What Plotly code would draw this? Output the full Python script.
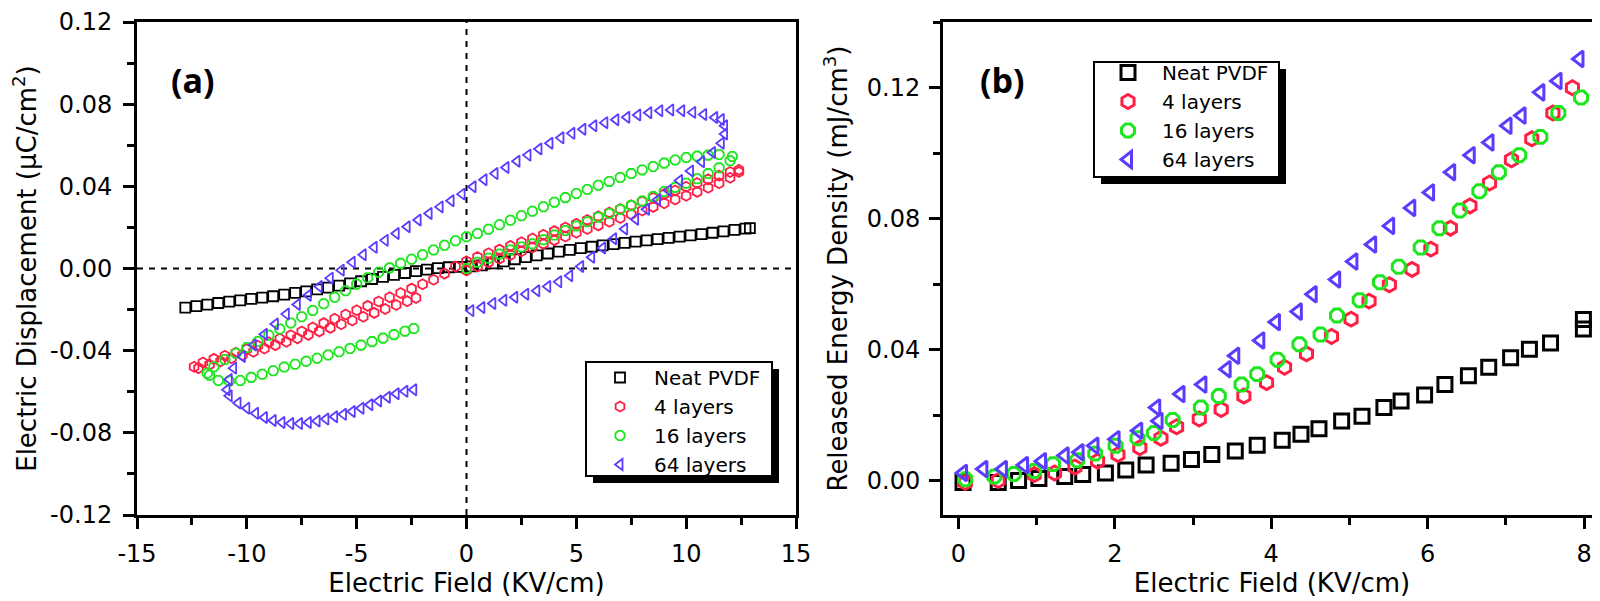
import plotly.graph_objects as go

# ---------------- data ----------------
names = ["Neat PVDF", "4 layers", "16 layers", "64 layers"]
colors = ["#000000", "#ff1f45", "#1ee61e", "#5a3cff"]
symbols = ["square-open", "hexagon-open", "octagon-open", "triangle-left-open"]

# (a) electric displacement vs field, loops
pvdf_E = [-12.8, -12.3, -11.8, -11.3, -10.8, -10.3, -9.8, -9.3, -8.8, -8.3, -7.8, -7.3, -6.8,
          -6.3, -5.8, -5.3, -4.8, -4.3, -3.8, -3.3, -2.8, -2.3, -1.8, -1.3, -0.8, -0.3,
          0.2, 0.7, 1.2, 1.7, 2.2, 2.7, 3.2, 3.7, 4.2, 4.7, 5.2, 5.7, 6.2, 6.7, 7.2, 7.7,
          8.2, 8.7, 9.2, 9.7, 10.2, 10.7, 11.2, 11.7, 12.2, 12.7, 12.9]
pvdf_D = [-0.0190, -0.0183, -0.0176, -0.0168, -0.0161, -0.0155, -0.0148, -0.0142, -0.0135,
          -0.0127, -0.0119, -0.0111, -0.0102, -0.0093, -0.0083, -0.0072, -0.0062, -0.0051,
          -0.0041, -0.0031, -0.0022, -0.0013, -0.0005, 0.0002, 0.0006, 0.0008,
          0.0010, 0.0015, 0.0025, 0.0035, 0.0045, 0.0055, 0.0064, 0.0073, 0.0082, 0.0091,
          0.0099, 0.0106, 0.0113, 0.0119, 0.0125, 0.0131, 0.0137, 0.0143, 0.0149, 0.0155,
          0.0161, 0.0167, 0.0174, 0.0181, 0.0188, 0.0194, 0.0197]

l4_up_E = [0.0, 0.5, 1.0, 1.5, 2.0, 2.5, 3.0, 3.5, 4.0, 4.5, 5.0, 5.5, 6.0, 6.5, 7.0, 7.5,
           8.0, 8.5, 9.0, 9.5, 10.0, 10.5, 11.0, 11.5, 12.0, 12.4]
l4_up_D = [-0.001, 0.001, 0.003, 0.0048, 0.0066, 0.0084, 0.0102, 0.012, 0.0138, 0.0156,
           0.0174, 0.0192, 0.021, 0.0228, 0.0246, 0.0264, 0.0282, 0.030, 0.0318, 0.0336,
           0.0354, 0.0373, 0.0393, 0.0415, 0.0442, 0.047]
l4_down_E = [12.4, 12.0, 11.5, 11.0, 10.5, 10.0, 9.5, 9.0, 8.5, 8.0, 7.5, 7.0, 6.5, 6.0, 5.5,
             5.0, 4.5, 4.0, 3.5, 3.0, 2.5, 2.0, 1.5, 1.0, 0.5, 0.0, -0.5, -1.0, -1.5, -2.0,
             -2.5, -3.0, -3.5, -4.0, -4.5, -5.0, -5.5, -6.0, -6.5, -7.0, -7.5, -8.0, -8.5,
             -9.0, -9.5, -10.0, -10.5, -11.0, -11.5, -12.0, -12.4]
l4_down_D = [0.0480, 0.0470, 0.0452, 0.0434, 0.0416, 0.0398, 0.0380, 0.0362, 0.0344, 0.0326,
             0.0308, 0.0290, 0.0272, 0.0254, 0.0236, 0.0218, 0.0200, 0.0182, 0.0164, 0.0146,
             0.0128, 0.0110, 0.0092, 0.0074, 0.0056, 0.0035, 0.0010, -0.0025, -0.0055,
             -0.0077, -0.0098, -0.0119, -0.0140, -0.0161, -0.0182, -0.0203, -0.0224, -0.0245,
             -0.0266, -0.0287, -0.0307, -0.0325, -0.0342, -0.0359, -0.0376, -0.0393, -0.0410,
             -0.0425, -0.0440, -0.0458, -0.0478]
l4_tail_E = [-12.2, -11.7, -11.2, -10.7, -10.2, -9.7, -9.2, -8.7, -8.2, -7.7, -7.2, -6.7,
             -6.2, -5.7, -5.2, -4.7, -4.2, -3.7, -3.2, -2.7, -2.3]
l4_tail_D = [-0.0485, -0.0468, -0.0452, -0.0437, -0.0421, -0.0405, -0.0389, -0.0373, -0.0357,
             -0.0340, -0.0323, -0.0306, -0.0289, -0.0271, -0.0253, -0.0235, -0.0216, -0.0197,
             -0.0178, -0.0159, -0.0144]

l16_up_E = [0.0, 0.5, 1.0, 1.5, 2.0, 2.5, 3.0, 3.5, 4.0, 4.5, 5.0, 5.5, 6.0, 6.5, 7.0, 7.5,
            8.0, 8.5, 9.0, 9.5, 10.0, 10.5, 11.0, 11.5, 12.0]
l16_up_D = [0.000, 0.003, 0.005, 0.007, 0.009, 0.0105, 0.012, 0.014, 0.0163, 0.0185, 0.0207,
            0.0228, 0.025, 0.0268, 0.0287, 0.0306, 0.0328, 0.035, 0.0375, 0.0395, 0.0415,
            0.0437, 0.0462, 0.049, 0.0525]
l16_down_E = [12.1, 11.5, 11.0, 10.5, 10.0, 9.5, 9.0, 8.5, 8.0, 7.5, 7.0, 6.5, 6.0, 5.5, 5.0,
              4.5, 4.0, 3.5, 3.0, 2.5, 2.0, 1.5, 1.0, 0.5, 0.0, -0.5, -1.0, -1.5, -2.0, -2.5,
              -3.0, -3.5, -4.0, -4.5, -5.0, -5.5, -6.0, -6.5, -7.0, -7.5, -8.0, -8.5, -9.0,
              -9.5, -10.0, -10.5, -11.0, -11.5, -11.8]
l16_down_D = [0.0545, 0.0555, 0.0552, 0.0547, 0.0540, 0.0528, 0.0513, 0.0497, 0.0480, 0.0462,
              0.0443, 0.0424, 0.0405, 0.0385, 0.0365, 0.0345, 0.0323, 0.0301, 0.0279, 0.0257,
              0.0235, 0.0213, 0.0191, 0.0170, 0.0155, 0.0135, 0.0113, 0.0090, 0.0067, 0.0045,
              0.0025, 0.0003, -0.0018, -0.0045, -0.0076, -0.0108, -0.0140, -0.0172, -0.0204,
              -0.0235, -0.0265, -0.0295, -0.0325, -0.0355, -0.0385, -0.0413, -0.0443, -0.0478,
              -0.0510]
l16_tail_E = [-11.7, -11.3, -10.8, -10.3, -9.8, -9.3, -8.8, -8.3, -7.8, -7.3, -6.8, -6.3,
              -5.8, -5.3, -4.8, -4.3, -3.8, -3.3, -2.8, -2.4]
l16_tail_D = [-0.0520, -0.0545, -0.0548, -0.0545, -0.0530, -0.0515, -0.0498, -0.0480, -0.0466,
              -0.0452, -0.0437, -0.0421, -0.0405, -0.0389, -0.0373, -0.0356, -0.0339, -0.0322,
              -0.0305, -0.0292]

l64_up_E = [0.2, 0.7, 1.2, 1.7, 2.2, 2.7, 3.2, 3.7, 4.2, 4.7, 5.2, 5.7, 6.2, 6.7, 7.2, 7.7,
            8.2, 8.7, 9.2, 9.7, 10.2, 10.7, 11.2, 11.6, 11.75, 11.75, 11.6]
l64_up_D = [-0.0205, -0.019, -0.017, -0.0155, -0.014, -0.0125, -0.0108, -0.0088, -0.0065,
            -0.0035, 0.001, 0.0055, 0.010, 0.0145, 0.0192, 0.024, 0.0288, 0.0335, 0.038,
            0.0428, 0.0475, 0.052, 0.0565, 0.061, 0.0655, 0.0695, 0.0725]
l64_down_E = [11.3, 10.8, 10.3, 9.8, 9.3, 8.8, 8.3, 7.8, 7.3, 6.8, 6.3, 5.8, 5.3, 4.8, 4.3,
              3.8, 3.3, 2.8, 2.3, 1.8, 1.3, 0.8, 0.3, -0.2, -0.7, -1.2, -1.7, -2.2, -2.7,
              -3.2, -3.7, -4.2, -4.7, -5.2, -5.7, -6.2, -6.7, -7.2, -7.7, -8.2, -8.7, -9.2,
              -9.7, -10.2, -10.6, -10.8, -10.9]
l64_down_D = [0.0735, 0.075, 0.076, 0.0768, 0.0772, 0.0768, 0.0758, 0.0747, 0.0736, 0.0724,
              0.071, 0.0695, 0.0678, 0.0658, 0.0636, 0.061, 0.0582, 0.0552, 0.0522, 0.0492,
              0.0462, 0.0432, 0.0398, 0.0362, 0.033, 0.030, 0.0268, 0.0236, 0.0203, 0.017,
              0.0137, 0.0103, 0.0067, 0.003, -0.0008, -0.0047, -0.0088, -0.013, -0.0175,
              -0.0222, -0.027, -0.032, -0.0372, -0.0428, -0.0485, -0.054, -0.059]
l64_tail_E = [-10.8, -10.4, -10.0, -9.6, -9.2, -8.8, -8.4, -8.0, -7.6, -7.2, -6.8, -6.4, -6.0,
              -5.6, -5.2, -4.8, -4.4, -4.0, -3.6, -3.2, -2.8, -2.4]
l64_tail_D = [-0.062, -0.0655, -0.068, -0.0705, -0.0725, -0.074, -0.075, -0.0755, -0.0755,
              -0.075, -0.0742, -0.0733, -0.0722, -0.071, -0.0696, -0.068, -0.0663, -0.0645,
              -0.0627, -0.061, -0.0598, -0.059]

# (b) released energy density vs field
pvdf_b_E = [0.06, 0.51, 0.77, 1.03, 1.36, 1.59, 1.88, 2.14, 2.40, 2.72, 2.98, 3.24, 3.54, 3.82,
            4.14, 4.38, 4.61, 4.90, 5.16, 5.44, 5.66, 5.96, 6.22, 6.52, 6.78, 7.06, 7.30, 7.57,
            7.99, 7.99]
pvdf_b_W = [-0.0006, -0.0006, 0.0, 0.0006, 0.0012, 0.0018, 0.0023, 0.0032, 0.0047, 0.0053,
            0.0064, 0.0079, 0.0090, 0.0108, 0.0123, 0.0141, 0.0158, 0.0182, 0.0196, 0.0223,
            0.0243, 0.0261, 0.0293, 0.0320, 0.0346, 0.0375, 0.0401, 0.0420, 0.0463, 0.0492]
l4_b_E = [0.09, 0.51, 0.97, 1.23, 1.49, 1.78, 2.04, 2.32, 2.59, 2.79, 3.08, 3.36, 3.65, 3.94,
          4.17, 4.45, 4.77, 5.02, 5.25, 5.51, 5.80, 6.04, 6.29, 6.54, 6.79, 7.07, 7.33, 7.60,
          7.85]
l4_b_W = [-0.0006, 0.0, 0.0018, 0.0023, 0.0041, 0.0059, 0.0079, 0.0100, 0.0129, 0.0164, 0.0188,
          0.0217, 0.0258, 0.0299, 0.0346, 0.0387, 0.0440, 0.0493, 0.0548, 0.0598, 0.0645,
          0.0707, 0.0771, 0.0839, 0.0909, 0.0980, 0.1044, 0.1123, 0.1200]
l16_b_E = [0.09, 0.46, 0.71, 0.97, 1.21, 1.52, 1.75, 2.01, 2.29, 2.50, 2.74, 3.10, 3.33, 3.62,
           3.82, 4.08, 4.36, 4.63, 4.84, 5.13, 5.39, 5.63, 5.91, 6.15, 6.41, 6.66, 6.91, 7.17,
           7.44, 7.67, 7.96]
l16_b_W = [0.0004, 0.0012, 0.0020, 0.0029, 0.0050, 0.0062, 0.0082, 0.0106, 0.0129, 0.0145,
           0.0185, 0.0223, 0.0258, 0.0293, 0.0325, 0.0369, 0.0416, 0.0446, 0.0504, 0.0551,
           0.0606, 0.0653, 0.0712, 0.0771, 0.0825, 0.0884, 0.0942, 0.0994, 0.1050, 0.1123,
           0.1170]
l64_b_E = [0.06, 0.32, 0.57, 0.84, 1.07, 1.36, 1.55, 1.74, 2.01, 2.30, 2.53, 2.56, 2.84, 3.12,
           3.43, 3.54, 3.86, 4.06, 4.34, 4.53, 4.83, 5.05, 5.29, 5.52, 5.79, 6.03, 6.30, 6.55,
           6.79, 7.02, 7.20, 7.44, 7.66, 7.94]
l64_b_W = [0.0023, 0.0035, 0.0035, 0.0047, 0.0059, 0.0076, 0.0086, 0.0106, 0.0126, 0.0152,
           0.0223, 0.0182, 0.0264, 0.0293, 0.0340, 0.0381, 0.0428, 0.0484, 0.0516, 0.0569,
           0.0614, 0.0669, 0.0721, 0.0778, 0.0833, 0.0880, 0.0942, 0.0994, 0.1033, 0.1084,
           0.1115, 0.1186, 0.1221, 0.1288]

# tick labels
a_xticks = [-15, -10, -5, 0, 5, 10, 15]
a_xlabels = ["-15", "-10", "-5", "0", "5", "10", "15"]
a_yticks = [-0.12, -0.08, -0.04, 0.0, 0.04, 0.08, 0.12]
a_ylabels = ["-0.12", "-0.08", "-0.04", "0.00", "0.04", "0.08", "0.12"]
b_xticks = [0, 2, 4, 6, 8]
b_yticks = [0.0, 0.04, 0.08, 0.12]
b_ylabels = ["0.00", "0.04", "0.08", "0.12"]

loops_a = [
    (pvdf_E, pvdf_D),
    (l4_up_E + l4_down_E + l4_tail_E, l4_up_D + l4_down_D + l4_tail_D),
    (l16_up_E + l16_down_E + l16_tail_E, l16_up_D + l16_down_D + l16_tail_D),
    (l64_up_E + l64_down_E + l64_tail_E, l64_up_D + l64_down_D + l64_tail_D),
]
curves_b = [(pvdf_b_E, pvdf_b_W), (l4_b_E, l4_b_W), (l16_b_E, l16_b_W), (l64_b_E, l64_b_W)]

FONT = "DejaVu Sans, sans-serif"
W, H = 1600, 601


def px_x(p):
    return p / W


def px_y(p):
    return (H - p) / H


fig = go.Figure()

for i in range(4):
    x, y = loops_a[i]
    fig.add_trace(go.Scatter(
        x=x, y=y, mode="markers", name=names[i], legend="legend",
        marker=dict(symbol=symbols[i], size=10, color=colors[i], line=dict(width=1.8, color=colors[i])),
        xaxis="x", yaxis="y"))

for i in range(4):
    x, y = curves_b[i]
    fig.add_trace(go.Scatter(
        x=x, y=y, mode="markers", name=names[i], legend="legend2",
        marker=dict(symbol=symbols[i], size=14, color=colors[i], line=dict(width=3, color=colors[i])),
        xaxis="x2", yaxis="y2"))

axis_style = dict(showline=True, linecolor="black", linewidth=3, mirror=True,
                  ticks="outside", ticklen=11, tickwidth=2.5, tickcolor="black",
                  showgrid=False, zeroline=False, automargin=False,
                  tickfont=dict(family=FONT, size=24, color="black"),
                  title_font=dict(family=FONT, size=26, color="black"))
minor_style = dict(ticks="outside", ticklen=7, tickwidth=2.5, tickcolor="black")

y_dom = [px_y(507), px_y(14)]

leg_style = dict(xanchor="left", yanchor="top", bgcolor="rgba(0,0,0,0)", borderwidth=0,
                 font=dict(family=FONT, size=20, color="black"), itemwidth=58)

fig.update_layout(
    width=W, height=H, autosize=False,
    margin=dict(l=0, r=0, t=0, b=0),
    paper_bgcolor="white", plot_bgcolor="white",
    xaxis=dict(axis_style, domain=[px_x(129), px_x(788)], range=[-15, 15],
               tickvals=a_xticks, ticktext=a_xlabels, ticklabelstandoff=4,
               minor=dict(minor_style, dtick=2.5),
               title=dict(text="Electric Field (KV/cm)", standoff=8)),
    yaxis=dict(axis_style, domain=y_dom, range=[-0.12, 0.12],
               tickvals=a_yticks, ticktext=a_ylabels, ticklabelstandoff=6,
               minor=dict(minor_style, dtick=0.02),
               title=dict(text="Electric Displacement (\u00b5C/cm<sup>2</sup>)", standoff=12)),
    xaxis2=dict(axis_style, domain=[px_x(935), px_x(1593)], range=[-0.196, 8.215],
                tickvals=b_xticks, ticklabelstandoff=4, anchor="y2",
                minor=dict(minor_style, dtick=1),
                title=dict(text="Electric Field (KV/cm)", standoff=8)),
    yaxis2=dict(axis_style, domain=y_dom, range=[-0.01055, 0.1401], anchor="x2",
                tickvals=b_yticks, ticktext=b_ylabels, ticklabelstandoff=4,
                minor=dict(minor_style, dtick=0.02, tick0=0),
                title=dict(text="Released Energy Density (mJ/cm<sup>3</sup>)", standoff=12)),
    legend=dict(leg_style, x=px_x(578), y=px_y(350)),
    legend2=dict(leg_style, x=px_x(1086), y=px_y(45)),
    showlegend=True,
)

# dashed zero lines in (a)
fig.add_shape(type="line", xref="x", yref="y", x0=0, x1=0, y0=-0.12, y1=0.12,
              line=dict(color="black", width=2, dash="6px,6px"), layer="below")
fig.add_shape(type="line", xref="x", yref="y", x0=-15, x1=15, y0=0, y1=0,
              line=dict(color="black", width=2, dash="6px,6px"), layer="below")

# legend frames with drop shadow (legend itself is transparent on top)
for left, top, right, bottom in [(578, 354, 764, 468), (1086, 54, 1271, 169)]:
    fig.add_shape(type="rect", xref="paper", yref="paper",
                  x0=px_x(left + 7), x1=px_x(right + 7), y0=px_y(bottom + 7), y1=px_y(top + 7),
                  fillcolor="black", line=dict(width=0), layer="above")
    fig.add_shape(type="rect", xref="paper", yref="paper",
                  x0=px_x(left), x1=px_x(right), y0=px_y(bottom), y1=px_y(top),
                  fillcolor="white", line=dict(color="black", width=2), layer="above")

# panel letters
fig.add_annotation(text="<b>(a)</b>", xref="paper", yref="paper", x=px_x(185), y=px_y(72),
                   xanchor="center", yanchor="middle", showarrow=False,
                   font=dict(family="Open Sans, sans-serif", size=34, color="black"))
fig.add_annotation(text="<b>(b)</b>", xref="paper", yref="paper", x=px_x(995), y=px_y(72),
                   xanchor="center", yanchor="middle", showarrow=False,
                   font=dict(family="Open Sans, sans-serif", size=34, color="black"))

fig.write_html("out.html")
